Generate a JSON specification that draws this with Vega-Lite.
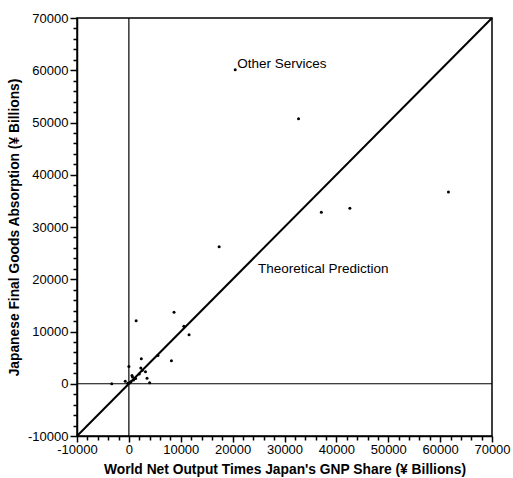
{
  "$schema": "https://vega.github.io/schema/vega-lite/v6.json",
  "width": 415,
  "height": 418,
  "autosize": {"type": "none"},
  "padding": {"left": 77, "top": 18, "right": 21, "bottom": 42},
  "background": "white",
  "config": {
    "view": {"stroke": "black", "strokeWidth": 1.5},
    "font": "Liberation Sans",
    "axis": {"grid": false, "ticks": true, "tickOpacity": 1, "domain": true}
  },
  "datasets": {
    "points": [
      {"x": 20500, "y": 60100},
      {"x": 32700, "y": 50700},
      {"x": 61600, "y": 36700},
      {"x": 42600, "y": 33600},
      {"x": 37100, "y": 32800},
      {"x": 17400, "y": 26200},
      {"x": 8700, "y": 13700},
      {"x": 1400, "y": 12050},
      {"x": 10600, "y": 11000},
      {"x": 11600, "y": 9400},
      {"x": 5600, "y": 5400},
      {"x": 8200, "y": 4400},
      {"x": 2400, "y": 4800},
      {"x": 2300, "y": 3000},
      {"x": 2600, "y": 2600},
      {"x": 3200, "y": 2300},
      {"x": 2000, "y": 1850},
      {"x": 3500, "y": 1050},
      {"x": 4000, "y": 200},
      {"x": -3300, "y": 0},
      {"x": 0, "y": 3300},
      {"x": -700, "y": 500},
      {"x": 600, "y": 1600},
      {"x": 900, "y": 700},
      {"x": 400, "y": 400},
      {"x": 1300, "y": 1000},
      {"x": 200, "y": 200},
      {"x": -200, "y": 100},
      {"x": 700, "y": 1300}
    ],
    "labels": [
      {"x": 20900, "y": 61200, "text": "Other Services"},
      {"x": 24900, "y": 22000, "text": "Theoretical Prediction"}
    ],
    "diag": [
      {"x": -10000, "y": -10000},
      {"x": 70000, "y": 70000}
    ],
    "vrule": [{"x": 0, "y": -10000, "y2": 70000}],
    "hrule": [{"x": -10000, "x2": 70000, "y": 0}]
  },
  "resolve": {"axis": {"x": "independent", "y": "independent"}},
  "layer": [
    {
      "data": {"name": "diag"},
      "mark": {"type": "line", "color": "black", "strokeWidth": 2},
      "encoding": {
        "x": {
          "field": "x", "type": "quantitative",
          "scale": {"domain": [-10000, 70000], "nice": false, "zero": false},
          "axis": {
            "orient": "bottom",
            "title": null,
            "labels": false,
            "domain": false,
            "ticks": true,
            "values": [-8000,-6000,-4000,-2000,2000,4000,6000,8000,12000,14000,16000,18000,22000,24000,26000,28000,32000,34000,36000,38000,42000,44000,46000,48000,52000,54000,56000,58000,62000,64000,66000,68000],
            "tickSize": 4,
            "tickWidth": 1.5,
            "tickColor": "black"
          }
        },
        "y": {
          "field": "y", "type": "quantitative",
          "scale": {"domain": [-10000, 70000], "nice": false, "zero": false},
          "axis": {
            "orient": "left",
            "title": null,
            "labels": false,
            "domain": false,
            "ticks": true,
            "values": [-8000,-6000,-4000,-2000,2000,4000,6000,8000,12000,14000,16000,18000,22000,24000,26000,28000,32000,34000,36000,38000,42000,44000,46000,48000,52000,54000,56000,58000,62000,64000,66000,68000],
            "tickSize": 4,
            "tickWidth": 1.5,
            "tickColor": "black"
          }
        }
      }
    },
    {
      "data": {"name": "vrule"},
      "mark": {"type": "rule", "color": "black", "strokeWidth": 1.2},
      "encoding": {
        "x": {
          "field": "x", "type": "quantitative",
          "scale": {"domain": [-10000, 70000], "nice": false, "zero": false},
          "axis": {
            "orient": "bottom",
            "title": "World Net Output Times Japan's GNP Share (¥ Billions)",
            "titleFont": "Liberation Sans",
            "titleFontSize": 13.8,
            "titleFontWeight": "bold",
            "titleColor": "black",
            "titlePadding": 6,
            "values": [-10000, 0, 10000, 20000, 30000, 40000, 50000, 60000, 70000],
            "labelExpr": "'' + datum.value",
            "labelFontSize": 13,
            "labelColor": "black",
            "labelFlush": false,
            "labelOverlap": false,
            "labelPadding": 1,
            "ticks": true,
            "tickSize": 6,
            "tickWidth": 1.5,
            "tickColor": "black",
            "domainColor": "black",
            "domainWidth": 1.5
          }
        },
        "y": {
          "field": "y", "type": "quantitative",
          "scale": {"domain": [-10000, 70000], "nice": false, "zero": false},
          "axis": {
            "orient": "left",
            "title": "Japanese Final Goods Absorption (¥ Billions)",
            "titleFont": "Liberation Sans",
            "titleFontSize": 13.8,
            "titleFontWeight": "bold",
            "titleColor": "black",
            "titlePadding": 6,
            "values": [-10000, 0, 10000, 20000, 30000, 40000, 50000, 60000, 70000],
            "labelExpr": "'' + datum.value",
            "labelFontSize": 13,
            "labelColor": "black",
            "labelFlush": false,
            "labelOverlap": false,
            "labelPadding": 2,
            "ticks": true,
            "tickSize": 7,
            "tickWidth": 1.5,
            "tickColor": "black",
            "domainColor": "black",
            "domainWidth": 1.5
          }
        },
        "y2": {"field": "y2"}
      }
    },
    {
      "data": {"name": "hrule"},
      "mark": {"type": "rule", "color": "black", "strokeWidth": 1.2},
      "encoding": {
        "x": {"field": "x", "type": "quantitative", "axis": null},
        "x2": {"field": "x2"},
        "y": {"field": "y", "type": "quantitative", "axis": null}
      }
    },
    {
      "data": {"name": "points"},
      "mark": {"type": "circle", "color": "black", "opacity": 1, "size": 9},
      "encoding": {
        "x": {"field": "x", "type": "quantitative", "axis": null},
        "y": {"field": "y", "type": "quantitative", "axis": null}
      }
    },
    {
      "data": {"name": "labels"},
      "mark": {"type": "text", "align": "left", "baseline": "middle", "fontSize": 13.5, "font": "Liberation Sans", "color": "black"},
      "encoding": {
        "x": {"field": "x", "type": "quantitative", "axis": null},
        "y": {"field": "y", "type": "quantitative", "axis": null},
        "text": {"field": "text"}
      }
    }
  ]
}
